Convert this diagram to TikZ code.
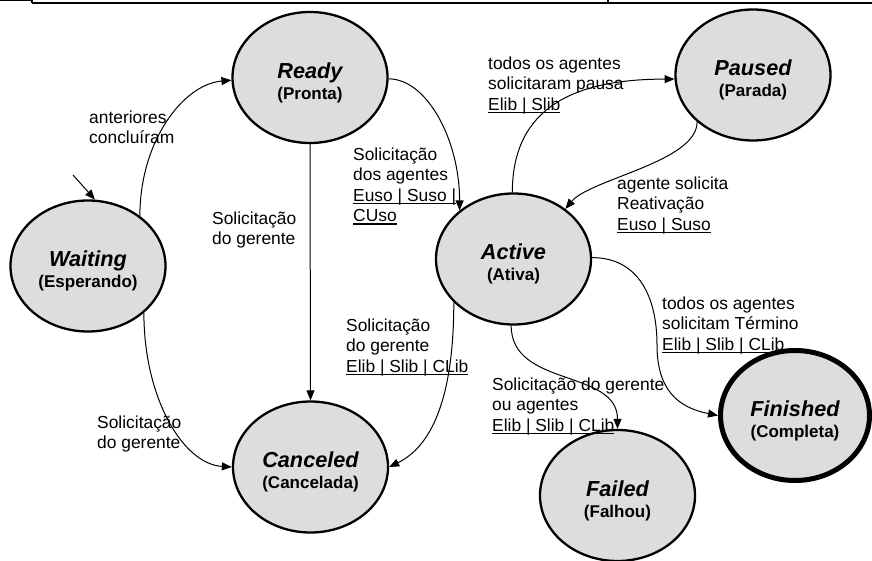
\documentclass[tikz,border=0pt]{standalone}
\usepackage{fontspec}
\setmainfont{Liberation Sans}
\usetikzlibrary{shapes.geometric,arrows.meta}
\definecolor{statefill}{RGB}{221,221,221}
% underlined text with the rule set just below the baseline
\newcommand{\ulbar}[1]{\setbox0=\hbox{#1}\rlap{\rule[-3pt]{\wd0}{1.5pt}}\box0}
% fixed first-line height so that labels can be placed by their baseline
\newcommand{\firstline}{\rule{0pt}{17pt}}
% state name over its Portuguese name; the strut lowers the block a little
\newcommand{\statetext}[2]{{\fontsize{21.7}{24}\selectfont\bfseries\itshape\rule{0pt}{26pt}#1}\\{\bfseries #2}}
\tikzset{
  state/.style={ellipse, draw, line width=2.3pt, fill=statefill, inner sep=0pt,
    minimum width=155pt, minimum height=131pt, align=center,
    font=\fontsize{17}{21}\selectfont},
  final/.style={state, line width=5pt, minimum width=149pt, minimum height=130pt},
  trans/.style={draw, line width=1pt, -{Triangle[length=10pt,width=8pt]}},
  lbl/.style={anchor=north west, inner sep=0pt, align=left,
    font=\fontsize{17.4}{20.6}\selectfont}
}
\begin{document}
\begin{tikzpicture}[x=1pt,y=-1pt]
\useasboundingbox (0,0) rectangle (872,561);

% page rule along the top edge
\draw[line width=1pt] (0,0.5) -- (32,0.5);
\draw[line width=2pt] (32,3) -- (872,3);
\draw[line width=1.2pt] (32,0) -- (32,3);
\draw[line width=1.2pt] (608,0) -- (608,3);

% states
\node[state] (W) at (88,266) {\statetext{Waiting}{(Esperando)}};
\node[state] (R) at (310,77.5) {\statetext{Ready}{(Pronta)}};
\node[state] (P) at (753,75) {\statetext{Paused}{(Parada)}};
\node[state] (A) at (513.5,259) {\statetext{Active}{(Ativa)}};
\node[state] (C) at (310.5,467) {\statetext{Canceled}{(Cancelada)}};
\node[state] (F) at (617.5,495.5) {\statetext{Failed}{(Falhou)}};
\node[final] (Fin) at (795,415.5) {\statetext{Finished}{(Completa)}};

% initial marker
\coordinate (init) at (73,175);
\draw[trans] (init) -- (W.84);

% transitions
\draw[trans] (W.44) .. controls +(0,-75) and +(-48,4) .. (R.182);
\draw[trans] (W.320) .. controls +(0,85) and +(-49,-3) .. (C.180);
\draw[trans] (R.south) -- (C.north);
\draw[trans] (R.-1) .. controls +(38,0) and +(0,-71) .. (A.138);
\draw[trans] (A.216) .. controls +(0,90) and +(45,-22) .. (C.0);
\draw[trans] (A.91) .. controls +(0,-85) and +(-100,0) .. (P.183);
\draw[trans] (P.220) .. controls +(0,40) and +(25,-30) .. (A.44);
\draw[trans] (A.268) .. controls +(0,62) and +(0,-60) .. (F.90);
\coordinate (bend) at (657,345);
\draw[trans] (A.1) .. controls +(45,0) and +(0,-50) .. (bend)
  .. controls +(0,45) and +(-40,-8) .. (Fin.180);

% transition labels
\node[lbl] (l1) at (89,106) {\firstline anteriores\\concluíram};
\node[lbl] (l2) at (212,207) {\firstline Solicitação\\do gerente};
\node[lbl] (l3) at (353,143) {\firstline Solicitação\\dos agentes\\\ulbar{Euso | Suso |}\\\ulbar{CUso}};
\node[lbl] (l4) at (346,314) {\firstline Solicitação\\do gerente\\\ulbar{Elib | Slib | CLib}};
\node[lbl] (l5) at (97,411) {\firstline Solicitação\\do gerente};
\node[lbl] (l6) at (488,52) {\firstline todos os agentes\\solicitaram pausa\\\ulbar{Elib | Slib}};
\node[lbl] (l7) at (617,172) {\firstline agente solicita\\Reativação\\\ulbar{Euso | Suso}};
\node[lbl] (l8) at (662,292) {\firstline todos os agentes\\solicitam Término\\\ulbar{Elib | Slib | CLib}};
\node[lbl] (l9) at (492,373) {\firstline Solicitação do gerente\\ou agentes\\\ulbar{Elib | Slib | CLib}};
\end{tikzpicture}
\end{document}
